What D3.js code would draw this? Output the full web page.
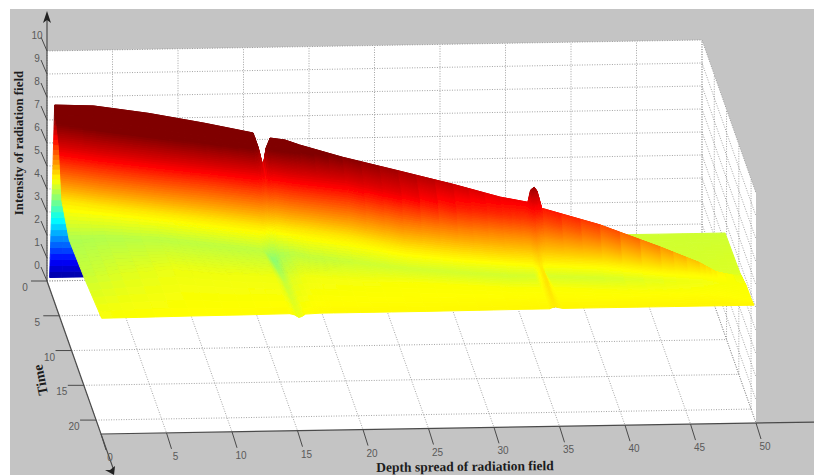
<!DOCTYPE html>
<html>
<head>
<meta charset="utf-8">
<script src="https://cdn.jsdelivr.net/npm/d3@7"></script>
<style>
  html, body { margin: 0; padding: 0; background: #fff; }
  svg { display: block; }
</style>
</head>
<body>
<div id="chart"></div>
<script>
// tick labels
var depthTicks = [0, 5, 10, 15, 20, 25, 30, 35, 40, 45, 50];
var timeTicks = [0, 5, 10, 15, 20];
var heightTicks = [0, 1, 2, 3, 4, 5, 6, 7, 8, 9, 10];

// surface: one value per depth column, per profile station
var depths = [0.2, 3, 7, 11, 14.54, 14.9, 15.26, 15.48, 15.77, 16.85, 17.9, 21, 25, 29, 32.4, 34.4, 34.6, 34.85, 35.06, 35.4, 39.6, 43.95, 46.8, 48, 50];

var backTime = [0, 0, 0, 0, 0, 0, 0, 0, 0, 0, 0, 0, 6, 9.4, 9.4, 9.4, 9.4, 9.4, 9.4, 9.4, 9.4, 9.4, 9.4, 9.4, 9.4];
var backZ = [0.15, 0.15, 0.15, 0.15, 0.15, 0.15, 0.15, 0.15, 0.15, 0.15, 0.15, 0.15, 3, 4.45, 4.45, 4.45, 4.45, 4.45, 4.45, 4.45, 4.45, 4.45, 4.45, 4.45, 4.45];

var wallTime = [1.03, 1.45, 2.05, 2.65, 3.2, 3.2, 3.3, 3.3, 3.35, 3.5, 3.7, 4.15, 7.7, 10, 10.8, 11.5, 11.5, 11.5, 11.5, 11.6, 13.2, 14.5, 15.2, 15.5, 15.6];
var wallZ = [4.1, 4.2, 4.2, 4.2, 4.1, 3.8, 3.4, 3.8, 4, 4, 4, 3.85, 5.2, 4.5, 4.5, 4.5, 4.5, 4.5, 4.5, 4.5, 4.5, 4.5, 4.5, 4.52, 4.55];

var ridgeTime = [2.06, 2.9, 4.1, 5.3, 6.36, 6.47, 6.58, 6.64, 6.73, 7.05, 7.37, 8.3, 9.5, 10.7, 11.72, 12.32, 12.38, 12.45, 12.52, 12.62, 13.88, 15.18, 16.04, 16.4, 16.5];
var ridgeZ = [8.27, 8.46, 8.46, 8.36, 8.22, 7.64, 6.8, 7.64, 8.1, 8.1, 7.97, 7.69, 7.43, 7.16, 6.88, 6.82, 7.37, 7.51, 7.36, 6.64, 6.26, 5.65, 5.2, 4.9, 4.65];

var redTime = [4, 4.9, 6, 7, 7.9, 8, 8, 8, 8, 8.4, 8.7, 9.5, 11.2, 12.1, 12.8, 13.2, 13.2, 13.2, 13.2, 13.3, 14.3, 15.5, 16.2, 16.6, 16.8];
var redZ = [7, 7, 7, 7, 7, 6.95, 6.5, 6.9, 7, 7, 7, 7, 6.9, 6.5, 6.4, 6.3, 6.45, 6.6, 6.45, 6.25, 5.9, 5.4, 5.1, 4.87, 4.66];

var orangeTime = [4.5, 5.4, 6.5, 7.5, 8.5, 8.6, 8.6, 8.6, 8.6, 9, 9.3, 10.2, 11.8, 12.7, 13.3, 13.7, 13.7, 13.7, 13.7, 13.8, 14.7, 15.8, 16.4, 16.8, 17];
var orangeZ = [6, 6, 6, 6, 6, 5.95, 5.8, 5.9, 6, 6, 6, 6, 5.9, 5.8, 5.7, 5.65, 5.8, 5.95, 5.8, 5.6, 5.5, 5.15, 5, 4.85, 4.68];

var kneeTime = [5, 5.9, 7, 8.1, 9.1, 9.2, 9.2, 9.2, 9.2, 9.6, 9.9, 10.9, 12.6, 13.6, 14.2, 14.5, 14.5, 14.5, 14.5, 14.6, 15.1, 16.1, 16.6, 17, 17.4];
var kneeZ = [5, 5, 5, 5, 5, 5, 4.9, 4.9, 5, 5, 5, 5, 5, 5, 5, 5, 5.15, 5.3, 5.15, 5, 5, 4.95, 4.88, 4.82, 4.72];

var valleyTime = [8, 8, 8.6, 9.6, 10.5, 10.6, 10.6, 10.6, 10.6, 11, 11.6, 12.6, 13.9, 14.6, 15.1, 15.3, 15.3, 15.3, 15.3, 15.4, 15.8, 16.8, 17.2, 17.6, 18];
var valleyZ = [4.2, 4.25, 4.32, 4.33, 4.33, 4.12, 3.95, 3.95, 4.15, 4.33, 4.36, 4.42, 4.47, 4.47, 4.47, 4.5, 4.72, 5, 4.72, 4.5, 4.5, 4.65, 4.72, 4.75, 4.78];

var midTime = [14, 14, 14, 15, 15.5, 15.5, 15.5, 15.5, 15.5, 15.5, 15.8, 16.5, 17, 17.5, 18, 18, 18, 18, 18, 18, 18.5, 19, 19.5, 19.7, 20];
var midZ = [4.4, 4.55, 4.68, 4.7, 4.7, 4.58, 4.4, 4.42, 4.58, 4.7, 4.72, 4.75, 4.78, 4.78, 4.78, 4.78, 4.88, 5.05, 4.88, 4.78, 4.78, 4.8, 4.82, 4.82, 4.8];

var frontTime = [21.2, 21.2, 21.2, 21.2, 21.2, 21.2, 21.2, 21.2, 21.2, 21.2, 21.2, 21.2, 21.2, 21.2, 21.2, 21.2, 21.2, 21.2, 21.2, 21.2, 21.2, 21.2, 21.2, 21.2, 21.2];
var frontZ = [4.79, 4.8, 4.82, 4.83, 4.85, 4.8, 4.68, 4.72, 4.82, 4.85, 4.85, 4.85, 4.85, 4.86, 4.87, 4.87, 4.92, 4.95, 4.92, 4.88, 4.88, 4.88, 4.88, 4.88, 4.88];

var svgWidth = 814;
var svgHeight = 475;
var depthMax = 50, timeMax = 22, heightMax = 10, colorMax = 7.7;

var svg = d3.select("#chart").append("svg")
  .attr("width", svgWidth)
  .attr("height", svgHeight);

// slight softening, the reference is a compressed screenshot
var defs = svg.append("defs");
defs.append("filter").attr("id", "soft")
  .append("feGaussianBlur").attr("stdDeviation", 0.5);

// parallel projection of the matlab view, each data axis adds its own shift
var xDepth = d3.scaleLinear().domain([0, depthMax]).range([47, 702]);
var xTime = d3.scaleLinear().domain([0, timeMax]).range([0, 54]);
var yDepth = d3.scaleLinear().domain([0, depthMax]).range([281, 270]);
var yTime = d3.scaleLinear().domain([0, timeMax]).range([0, 153]);
var yHeight = d3.scaleLinear().domain([0, heightMax]).range([0, -230]);

function px(d, t) { return xDepth(d) + xTime(t); }
function py(d, t, z) { return yDepth(d) + yTime(t) + yHeight(z); }
function pt(d, t, z) { return [px(d, t), py(d, t, z)]; }

// jet colormap
var jet = d3.scaleLinear()
  .domain([0, 0.125, 0.375, 0.625, 0.875, 1].map(v => v * colorMax))
  .range(["#00008f", "#0000ff", "#00ffff", "#ffff00", "#ff0000", "#800000"])
  .clamp(true);

// grey figure background and the white box walls
svg.append("rect")
  .attr("x", 10).attr("y", 9)
  .attr("width", svgWidth - 10).attr("height", svgHeight - 9)
  .attr("fill", "#c4c4c4");

var walls = [pt(0, 0, heightMax), pt(depthMax, 0, heightMax), pt(depthMax, timeMax, heightMax),
  pt(depthMax, timeMax, 0), pt(0, timeMax, 0), pt(0, 0, 0)];
svg.append("polygon")
  .attr("points", walls.join(" "))
  .attr("fill", "#fff");

// dotted grid
var gridLines = [];
depthTicks.forEach(function(d) {
  gridLines.push([pt(d, 0, 0), pt(d, 0, heightMax)]);
  gridLines.push([pt(d, 0, 0), pt(d, timeMax, 0)]);
});
timeTicks.forEach(function(t) {
  gridLines.push([pt(0, t, 0), pt(depthMax, t, 0)]);
  gridLines.push([pt(depthMax, t, 0), pt(depthMax, t, heightMax)]);
});
heightTicks.forEach(function(z) {
  gridLines.push([pt(0, 0, z), pt(depthMax, 0, z)]);
  gridLines.push([pt(depthMax, 0, z), pt(depthMax, timeMax, z)]);
});
svg.append("g").selectAll("line")
  .data(gridLines)
  .enter()
  .append("line")
  .attr("x1", d => d[0][0]).attr("y1", d => d[0][1])
  .attr("x2", d => d[1][0]).attr("y2", d => d[1][1])
  .attr("stroke", "#8c8c8c")
  .attr("stroke-width", 0.8)
  .attr("stroke-dasharray", "1 1.5");

// surface, painted station by station from the back to the front
var stations = [
  { time: backTime, z: backZ, steps: 0 },
  { time: wallTime, z: wallZ, steps: 14 },
  { time: ridgeTime, z: ridgeZ, steps: 18 },
  { time: redTime, z: redZ, steps: 22 },
  { time: orangeTime, z: orangeZ, steps: 12 },
  { time: kneeTime, z: kneeZ, steps: 12 },
  { time: valleyTime, z: valleyZ, steps: 10 },
  { time: midTime, z: midZ, steps: 10 },
  { time: frontTime, z: frontZ, steps: 6 }
];
var columnSteps = 3;

var cells = [];
function vertex(s, c, a, b) {
  // s, c index the station and column, a, b the position inside the patch
  var lerp = (arr, i) => arr[i] + (arr[i + 1] - arr[i]) * b;
  var t0 = lerp(stations[s].time, c), t1 = lerp(stations[s + 1].time, c);
  var z0 = lerp(stations[s].z, c), z1 = lerp(stations[s + 1].z, c);
  return { d: depths[c] + (depths[c + 1] - depths[c]) * b, t: t0 + (t1 - t0) * a, z: z0 + (z1 - z0) * a };
}
for (var s = 0; s < stations.length - 1; s++) {
  var n = stations[s + 1].steps;
  for (var i = 0; i < n; i++) {
    for (var c = 0; c < depths.length - 1; c++) {
      for (var j = 0; j < columnSteps; j++) {
        var corners = [
          vertex(s, c, i / n, j / columnSteps),
          vertex(s, c, i / n, (j + 1) / columnSteps),
          vertex(s, c, (i + 1) / n, (j + 1) / columnSteps),
          vertex(s, c, (i + 1) / n, j / columnSteps)
        ];
        cells.push(corners);
      }
    }
  }
}
svg.append("g")
  .attr("filter", "url(#soft)")
  .selectAll("polygon")
  .data(cells)
  .enter()
  .append("polygon")
  .attr("points", d => d.map(v => pt(v.d, v.t, v.z)).join(" "))
  .attr("fill", d => jet(d3.mean(d, v => v.z)))
  .attr("stroke", d => jet(d3.mean(d, v => v.z)))
  .attr("stroke-width", 1);

// axis lines
var axisColor = "#4a4a4a";
var labelColor = "#5a5a5a";
var axisLines = [
  [pt(0, 0, 0), [47, 18]],
  [pt(0, 0, 0), pt(0, 27.2, 0)],
  [pt(0, timeMax, 0), pt(55, timeMax, 0)]
];
svg.append("g").selectAll("line")
  .data(axisLines)
  .enter()
  .append("line")
  .attr("x1", d => d[0][0]).attr("y1", d => d[0][1])
  .attr("x2", d => d[1][0]).attr("y2", d => d[1][1])
  .attr("stroke", axisColor)
  .attr("stroke-width", 1.2);

// arrow heads
svg.append("polygon").attr("points", "47,11 43,23 47,20 51,23").attr("fill", "#222");
svg.append("polygon").attr("points", "114,475 105,470 110,470 115,466").attr("fill", "#222");

var tickG = svg.append("g").attr("stroke", axisColor).attr("stroke-width", 1);
var labelG = svg.append("g")
  .attr("font-family", "'Liberation Sans', Arial, sans-serif")
  .attr("font-size", 10)
  .attr("fill", labelColor)
  .attr("text-anchor", "middle");

heightTicks.forEach(function(z) {
  var p = pt(0, 0, z);
  tickG.append("line").attr("x1", p[0]).attr("y1", p[1]).attr("x2", p[0] - 6).attr("y2", p[1] - 14);
  labelG.append("text").attr("x", p[0] - 10).attr("y", p[1] - 12).text(z);
});
timeTicks.forEach(function(t) {
  var p = pt(0, t, 0);
  tickG.append("line").attr("x1", p[0]).attr("y1", p[1]).attr("x2", p[0] - 16).attr("y2", p[1]);
  labelG.append("text").attr("x", p[0] - 22).attr("y", p[1] + 10).text(t);
});
depthTicks.forEach(function(d) {
  var p = pt(d, timeMax, 0);
  tickG.append("line").attr("x1", p[0]).attr("y1", p[1]).attr("x2", p[0] + 5).attr("y2", p[1] + 16);
  labelG.append("text").attr("x", p[0] + 9).attr("y", p[1] + 27).text(d);
});

// axis titles
var titleG = svg.append("g")
  .attr("font-family", "'Liberation Serif', 'Times New Roman', serif")
  .attr("font-weight", "bold")
  .attr("fill", "#1c1c1c")
  .attr("text-anchor", "middle");

titleG.append("text")
  .attr("transform", "translate(23, 143) rotate(-90)")
  .attr("font-size", 12.9)
  .text("Intensity of radiation field");
titleG.append("text")
  .attr("transform", "translate(45, 379) rotate(-101)")
  .attr("font-size", 14)
  .text("Time");
titleG.append("text")
  .attr("transform", "translate(465, 471) rotate(-0.6)")
  .attr("font-size", 13.5)
  .text("Depth spread of radiation field");
</script>
</body>
</html>
